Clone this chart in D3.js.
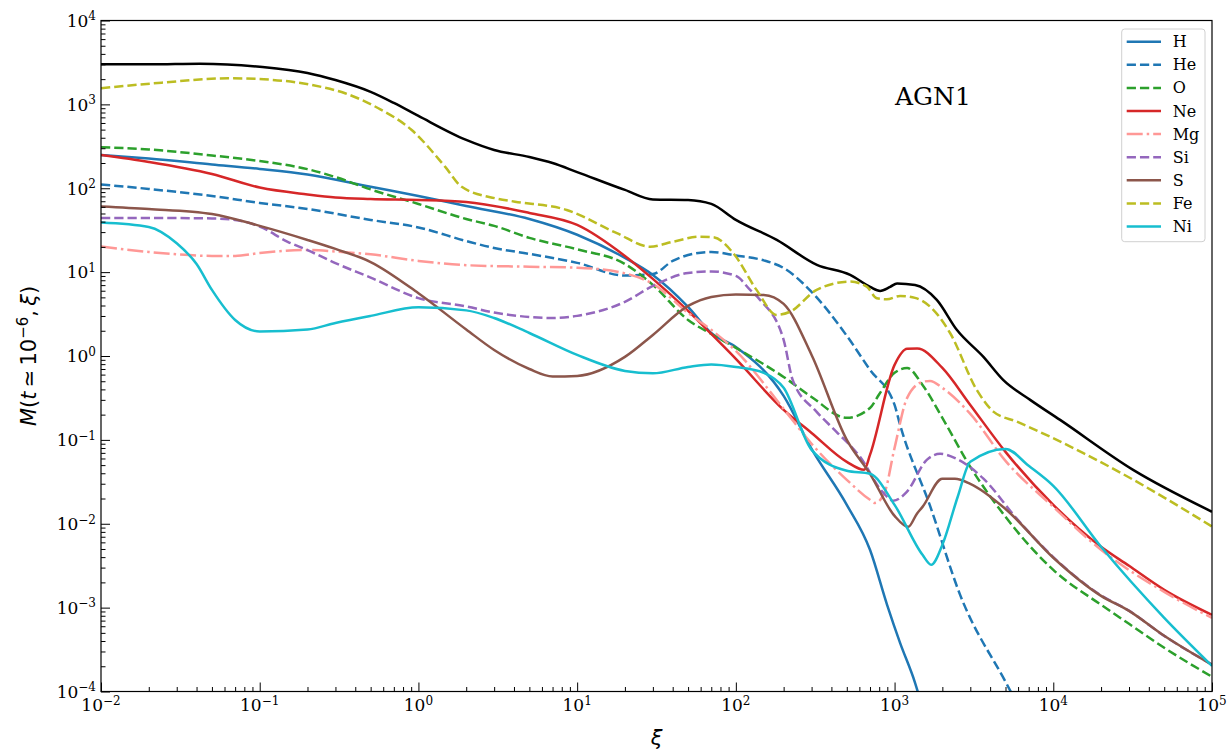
<!DOCTYPE html>
<html><head><meta charset="utf-8">
<script src="https://cdn.jsdelivr.net/npm/d3@7"></script>
<style>body{margin:0;background:#fff}</style>
</head><body>
<svg id="c" width="1232" height="751"></svg>
<script>
// ---------------- data ----------------
const totXi = [0.01,0.0204,0.042,0.1,0.2,0.3,0.5,0.7,1,2,3,5,7,10,20,30,50,70,100,181,324,525,702,811,938,1037,1346,1845,2466,3630,4830,7150,11040,31840,1e5];
const totM  = [3000,3000,3050,2810,2370,1950,1410,1040,728,377,286,236,200,156,95.5,73.6,72.6,65,41.9,24.2,12.2,9.26,6.67,5.97,6.67,7.33,7.03,4.67,2.05,0.975,0.519,0.30,0.173,0.0439,0.0139];

const hXi = [0.01,0.02,0.05,0.1,0.2,0.5,1,2,5,10,20,30,50,70,100,200,300,500,700,897,1083,1346,1449];
const hM  = [249,226,192,170,146,104,80.9,61.4,43.0,27.9,14.8,9.26,3.85,1.88,1.28,0.334,0.0781,0.0168,0.00489,0.00108,3.8e-4,1.27e-4,8e-5];

const heXi = [0.01,0.02,0.05,0.1,0.2,0.5,1,2,3,5,10,20,30,40,50,70,100,150,200,300,500,700,1000,1083,1674,2588,5040,5740];
const heM  = [111,98.1,80.9,66.8,56.6,41.9,34.1,23.5,19.4,16.5,12.9,9.1,9.5,13.6,16.0,17.4,15.8,13.8,11.2,5.81,1.74,0.683,0.261,0.151,0.0163,0.00142,1.27e-4,8e-5];

const oXi = [0.01,0.02,0.05,0.1,0.2,0.3,0.5,1,2,3,5,10,20,30,50,70,100,200,300,500,700,800,1000,1200,1500,2000,3000,5000,7000,1e4,2e4,3e4,5e4,1e5];
const oM  = [308,290,246,211,169,136,96.8,65.0,43.0,35.6,25.6,18.7,12.5,7.04,2.69,1.83,1.25,0.563,0.325,0.183,0.24,0.35,0.63,0.72,0.452,0.183,0.0477,0.0121,0.0056,0.00282,0.00108,6.41e-4,3.32e-4,1.50e-4];

const neXi = [0.01,0.02,0.05,0.1,0.2,0.3,0.5,1,2,5,10,20,30,50,70,100,200,300,500,643,700,1000,1200,1390,2000,3000,5000,1e4,2e4,3e4,5e4,1e5];
const neM  = [249,206,148,102,84.4,77.6,74.5,72.6,68.7,50.8,36.6,15.6,8.30,3.45,1.83,0.923,0.228,0.121,0.0547,0.0439,0.0662,0.783,1.22,1.23,0.721,0.261,0.0719,0.0168,0.00531,0.00315,0.00163,8.2e-4];

const mgXi = [0.01,0.02,0.03,0.05,0.07,0.1,0.2,0.3,0.5,1,2,5,10,20,30,50,70,100,200,300,500,700,752,859,1000,1200,1500,1674,2000,3000,5000,1e4,2e4,5e4,1e5];
const mgM  = [20.2,17.4,16.3,15.6,15.6,16.9,18.4,17.6,16.3,13.6,12.1,11.6,11.3,9.66,7.23,3.26,2.05,1.15,0.234,0.0897,0.0334,0.0193,0.0177,0.0227,0.0803,0.317,0.491,0.505,0.417,0.204,0.0562,0.0159,0.00489,0.00154,7.55e-4];

const siXi = [0.01,0.02,0.05,0.07,0.1,0.15,0.2,0.3,0.5,1,2,3,5,7,10,20,30,50,70,100,123,142,200,228,323,432,606,850,982,1194,1596,1935,2466,3630,5888,1e4,2e4,3e4,5e4,1e5];
const siM  = [44.2,44.2,43.7,41.9,35.0,23.0,18.3,12.8,8.6,4.9,3.9,3.3,2.92,2.84,3.01,4.42,6.85,9.78,10.2,9.01,6.14,4.67,1.56,0.519,0.216,0.124,0.0627,0.0233,0.0188,0.024,0.0578,0.0681,0.0594,0.0345,0.0115,0.0040,0.00140,9.2e-4,4.6e-4,2.1e-4];

const sXi = [0.01,0.02,0.05,0.1,0.2,0.3,0.5,1,2,3,5,7,10,20,30,50,70,100,150,200,300,500,700,1000,1220,1380,1500,2000,2400,3000,5000,1e4,2e4,3e4,5e4,1e5];
const sM  = [60.7,56.6,49.4,35.6,24.2,18.9,13.2,5.6,2.07,1.18,0.70,0.571,0.579,0.975,1.78,3.95,5.06,5.42,5.35,4.18,1.03,0.10,0.0394,0.0124,0.00918,0.0131,0.0159,0.0343,0.0343,0.0299,0.0150,0.00393,0.00138,9.16e-4,4.61e-4,2.08e-4];

const feXi = [0.01,0.0241,0.0634,0.106,0.213,0.345,0.559,0.907,1.471,1.874,3.04,4.06,8.60,17.8,28.8,40.4,59.5,72.1,96.4,135,181,219,323,524,668,772,893,1083,1346,1674,2237,3296,4195,5888,9545,15480,31970,1e5];
const feM  = [1556,1815,2048,1991,1703,1356,899,495,181,104,76,69.2,55.1,29.1,20.1,23.1,26.5,26.1,16.8,6.14,3.09,3.36,6.14,7.71,6.72,4.89,4.75,5.20,4.93,3.88,1.88,0.394,0.217,0.165,0.109,0.0695,0.0334,0.00927];

const niXi = [0.01,0.02,0.03,0.04,0.05,0.07,0.1,0.2,0.3,0.5,1,2,3,5,10,20,30,50,70,100,150,200,300,500,700,1000,1500,1700,2000,2500,3000,5000,7000,1e4,2e4,5e4,1e5];
const niM  = [39.1,34.6,22.1,12.5,6.14,2.69,1.96,2.07,2.48,3.01,3.80,3.50,2.84,1.88,1.03,0.664,0.621,0.741,0.794,0.741,0.630,0.417,0.0760,0.0428,0.0394,0.0168,0.00426,0.00324,0.0056,0.021,0.0547,0.0781,0.049,0.0283,0.00531,7.55e-4,2.02e-4];

const seriesNames = ["H","He","O","Ne","Mg","Si","S","Fe","Ni"];
const xTickValues = [1e-2,1e-1,1e0,1e1,1e2,1e3,1e4,1e5];
const xTickExps   = ["\u22122","\u22121","0","1","2","3","4","5"];
const yTickValues = [1e-4,1e-3,1e-2,1e-1,1e0,1e1,1e2,1e3,1e4];
const yTickExps   = ["\u22124","\u22123","\u22122","\u22121","0","1","2","3","4"];
const annotation  = "AGN1";

// ---------------- styles ----------------
const LW = 2.5;
const DASH = "9.25,4", DASHDOT = "16,4,2.5,4";
const styles = {
  H:{c:"#1f77b4",d:null}, He:{c:"#1f77b4",d:DASH}, O:{c:"#2ca02c",d:DASH},
  Ne:{c:"#d62728",d:null}, Mg:{c:"#ff9896",d:DASHDOT}, Si:{c:"#9467bd",d:DASH},
  S:{c:"#8c564b",d:null}, Fe:{c:"#bcbd22",d:DASH}, Ni:{c:"#17becf",d:null}
};
const seriesData = {
  H:[hXi,hM], He:[heXi,heM], O:[oXi,oM], Ne:[neXi,neM], Mg:[mgXi,mgM],
  Si:[siXi,siM], S:[sXi,sM], Fe:[feXi,feM], Ni:[niXi,niM]
};

const L = 101, R = 1212, T = 20.5, B = 691.5;
const svg = d3.select("#c");
const x = d3.scaleLog().domain([1e-2,1e5]).range([L,R]);
const y = d3.scaleLog().domain([1e-4,1e4]).range([B,T]);

svg.append("defs").append("clipPath").attr("id","clip")
  .append("rect").attr("x",L).attr("y",T).attr("width",R-L).attr("height",B-T);

const line = d3.line().x(d=>x(d[0])).y(d=>y(d[1])).curve(d3.curveMonotoneX);
const plot = svg.append("g").attr("clip-path","url(#clip)");

plot.append("path").datum(d3.zip(totXi,totM)).attr("d",line)
  .attr("fill","none").attr("stroke","#000").attr("stroke-width",LW);

seriesNames.forEach(n=>{
  const st = styles[n], [xs,ms] = seriesData[n];
  plot.append("path").datum(d3.zip(xs,ms)).attr("d",line)
    .attr("fill","none").attr("stroke",st.c).attr("stroke-width",LW)
    .attr("stroke-dasharray",st.d);
});

// ---------------- axes ----------------
const minorX = [], minorY = [];
for (let e=-2;e<5;e++) for (let k=2;k<10;k++) minorX.push(k*Math.pow(10,e));
for (let e=-4;e<4;e++) for (let k=2;k<10;k++) minorY.push(k*Math.pow(10,e));

function styleAxis(g){ g.select(".domain").remove(); g.selectAll("line").attr("stroke","#000").attr("stroke-width",1); }
svg.append("g").attr("transform",`translate(${L},0)`)
  .call(d3.axisLeft(y).tickValues(yTickValues).tickSize(-9).tickFormat(()=>"")).call(styleAxis);
svg.append("g").attr("transform",`translate(${L},0)`)
  .call(d3.axisLeft(y).tickValues(minorY).tickSize(-4.5).tickFormat(()=>"")).call(styleAxis);
svg.append("g").attr("transform",`translate(0,${B})`)
  .call(d3.axisBottom(x).tickValues(xTickValues).tickSize(-9).tickFormat(()=>"")).call(styleAxis);
svg.append("g").attr("transform",`translate(0,${B})`)
  .call(d3.axisBottom(x).tickValues(minorX).tickSize(-4.5).tickFormat(()=>"")).call(styleAxis);

svg.append("rect").attr("x",L).attr("y",T).attr("width",R-L).attr("height",B-T)
  .attr("fill","none").attr("stroke","#000").attr("stroke-width",1.2);

const SERIF = "'DejaVu Serif', serif";
yTickValues.forEach((v,i)=>{
  const t = svg.append("text").attr("x",L-5).attr("y",y(v)+6.3)
    .attr("text-anchor","end").style("font-family",SERIF).style("font-size","17px").attr("fill","#000");
  t.append("tspan").text("10");
  t.append("tspan").attr("dy",-6.5).style("font-size","12px").text(yTickExps[i]);
});
xTickValues.forEach((v,i)=>{
  const t = svg.append("text").attr("x",x(v)).attr("y",B+19.5)
    .attr("text-anchor","middle").style("font-family",SERIF).style("font-size","17px").attr("fill","#000");
  t.append("tspan").text("10");
  t.append("tspan").attr("dy",-6.5).style("font-size","12px").text(xTickExps[i]);
});

// axis labels
const SANS = "'DejaVu Sans', sans-serif";
svg.append("text").attr("x",(L+R)/2).attr("y",745).attr("text-anchor","middle")
  .style("font-family",SANS).style("font-size","21px").style("font-style","italic").text("\u03BE");
const yl = svg.append("text").attr("transform",`translate(36,${(T+B)/2}) rotate(-90)`)
  .attr("text-anchor","middle").style("font-family",SANS).style("font-size","21px");
yl.append("tspan").style("font-style","italic").text("M");
yl.append("tspan").text("(");
yl.append("tspan").style("font-style","italic").text("t");
yl.append("tspan").text("\u2009\u2243\u200910");
yl.append("tspan").attr("dy",-8).style("font-size","15px").text("\u22126");
yl.append("tspan").attr("dy",8).text(",\u2009");
yl.append("tspan").style("font-style","italic").text("\u03BE");
yl.append("tspan").text(")");

svg.append("text").attr("x",895).attr("y",105).style("font-family",SERIF).style("font-size","25px").text(annotation);

// ---------------- legend ----------------
const lg = svg.append("g");
lg.append("rect").attr("x",1121.7).attr("y",29).attr("width",83.3).attr("height",212.7).attr("rx",3)
  .attr("fill","#fff").attr("fill-opacity",0.8).attr("stroke","#d0d0d0").attr("stroke-width",1);
seriesNames.forEach((n,i)=>{
  const cy = 41.7 + i*23.1, st = styles[n];
  lg.append("line").attr("x1",1126.7).attr("x2",1161).attr("y1",cy).attr("y2",cy)
    .attr("stroke",st.c).attr("stroke-width",LW).attr("stroke-dasharray",st.d);
  lg.append("text").attr("x",1172.7).attr("y",cy+5.5).style("font-family",SERIF).style("font-size","16px").text(n);
});
</script>
</body></html>
